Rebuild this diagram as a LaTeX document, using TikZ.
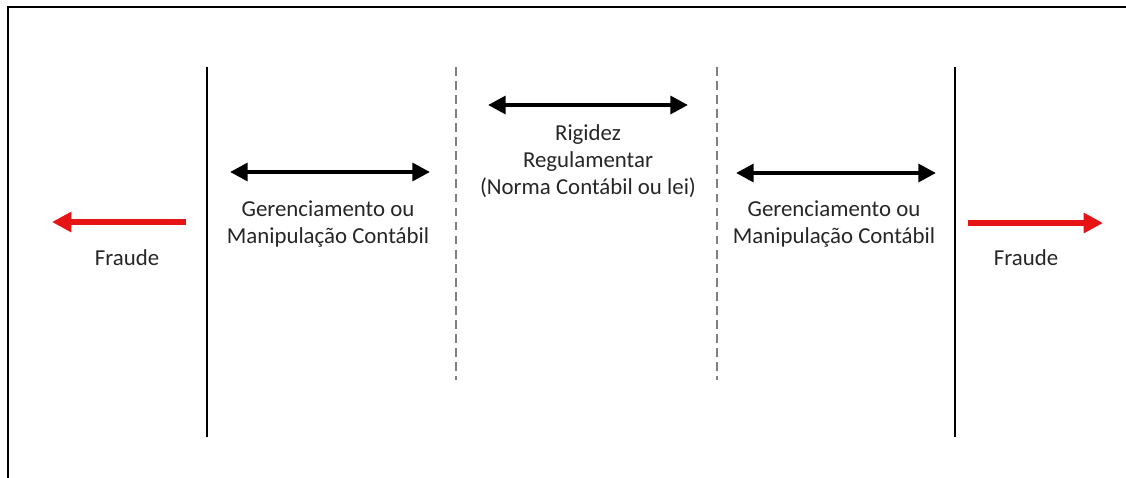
\documentclass[tikz,border=0pt]{standalone}
\usepackage{fontspec}
\setmainfont{Carlito}
\usetikzlibrary{arrows.meta, positioning}
\definecolor{myred}{RGB}{230, 20, 20}
\definecolor{mytext}{RGB}{38, 38, 38}

\begin{document}
\begin{tikzpicture}[
            x=0.02cm, y=-0.02cm,
            label/.style={
                font=\fontsize{13}{15.3}\selectfont,
                text=mytext,
                align=center,
                inner sep=0pt
            },
            border/.style={line width=1.3pt},
            limit/.style={line width=1.1pt},
            soft/.style={line width=0.6pt, gray, dash pattern=on 5pt off 3pt},
            twoway/.style={line width=2.4pt, {Triangle[length=10pt, width=10pt]}-{Triangle[length=10pt, width=10pt]}},
            fraud/.style={line width=3.6pt, myred, -{Triangle[length=11pt, width=11pt]}}
        ]

            \useasboundingbox (0,0) rectangle (1126,477);

            % Frame
            \draw[border] (8,480) -- (8,7) -- (1130,7);

            % Limits
            \draw[limit] (207,67) -- (207,437);
            \draw[limit] (955,67) -- (955,437);
            \draw[soft] (456,67) -- (456,380);
            \draw[soft] (717,67) -- (717,380);

            % Nodes
            \node[label] (rigidez) at (588,161) {Rigidez\\Regulamentar\\(Norma Contábil ou lei)};
            \node[label] (gerleft) at (328,224) {Gerenciamento ou\\Manipulação Contábil};
            \node[label] (gerright) at (834,224) {Gerenciamento ou\\Manipulação Contábil};
            \node[label] (fraudleft) at (127,258) {Fraude};
            \node[label] (fraudright) at (1026,258) {Fraude};

            % Arrow ends
            \coordinate (rigA) at (488,105);
            \coordinate (rigB) at (688,105);
            \coordinate (gerlA) at (230,172);
            \coordinate (gerlB) at (430,172);
            \coordinate (gerrA) at (736,173);
            \coordinate (gerrB) at (936,173);
            \coordinate (frlA) at (186,222);
            \coordinate (frlB) at (52,222);
            \coordinate (frrA) at (968,223);
            \coordinate (frrB) at (1103,223);

            % Arrows
            \draw[twoway] (rigA) -- (rigB);
            \draw[twoway] (gerlA) -- (gerlB);
            \draw[twoway] (gerrA) -- (gerrB);
            \draw[fraud] (frlA) -- (frlB);
            \draw[fraud] (frrA) -- (frrB);
        \end{tikzpicture}
\end{document}
